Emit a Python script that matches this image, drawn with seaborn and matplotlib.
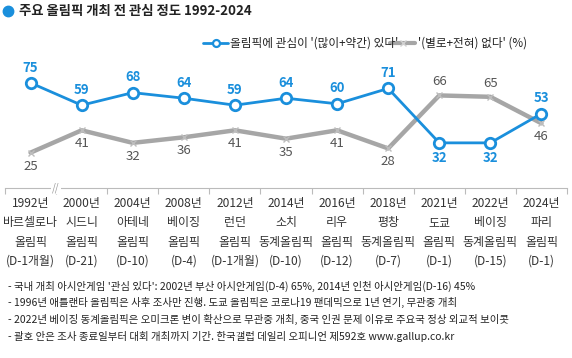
import matplotlib
matplotlib.use("Agg")
import matplotlib.pyplot as plt
import seaborn as sns
import pandas as pd
import numpy as np

# ---- data ----
years = ["1992년", "2000년", "2004년", "2008년", "2012년", "2014년",
         "2016년", "2018년", "2021년", "2022년", "2024년"]
cities = ["바르셀로나", "시드니", "아테네", "베이징", "런던", "소치",
          "리우", "평창", "도쿄", "베이징", "파리"]
games = ["올림픽", "올림픽", "올림픽", "올림픽", "올림픽", "동계올림픽",
         "올림픽", "동계올림픽", "올림픽", "동계올림픽", "올림픽"]
dday = ["(D-1개월)", "(D-21)", "(D-10)", "(D-4)", "(D-1개월)", "(D-10)",
        "(D-12)", "(D-7)", "(D-1)", "(D-15)", "(D-1)"]
interested = [75, 59, 68, 64, 59, 64, 60, 71, 32, 32, 53]
not_interested = [25, 41, 32, 36, 41, 35, 41, 28, 66, 65, 46]

title = "주요 올림픽 개최 전 관심 정도 1992-2024"
legend_blue = "올림픽에 관심이 '(많이+약간) 있다'"
legend_gray = "'(별로+전혀) 없다' (%)"
notes = [
    "- 국내 개최 아시안게임 '관심 있다': 2002년 부산 아시안게임(D-4) 65%, 2014년 인천 아시안게임(D-16) 45%",
    "- 1996년 애틀랜타 올림픽은 사후 조사만 진행. 도쿄 올림픽은 코로나19 팬데믹으로 1년 연기, 무관중 개최",
    "- 2022년 베이징 동계올림픽은 오미크론 변이 확산으로 무관중 개최, 중국 인권 문제 이유로 주요국 정상 외교적 보이콧",
    "- 괄호 안은 조사 종료일부터 대회 개최까지 기간. 한국갤럽 데일리 오피니언 제592호 www.gallup.co.kr",
]

BLUE = "#1a8fdc"
GRAY = "#a6a6a6"

sns.set_theme(style="white")
plt.rcParams['font.family'] = ['Noto Sans CJK KR', 'DejaVu Sans']

W, H = 572, 358
fig = plt.figure(figsize=(W / 100, H / 100), dpi=100)
zero_px = 187.5
top_px = 55
left, right = 5 / W, 567 / W
bottom, top = 1 - zero_px / H, 1 - top_px / H
ax = fig.add_axes([left, bottom, right - left, top - bottom])

n = len(years)
df = pd.DataFrame({"x": np.arange(n), "yes": interested, "no": not_interested})

sns.lineplot(data=df, x="x", y="no", ax=ax, color=GRAY, linewidth=3.2,
             marker="x", markersize=5, markeredgecolor="#bdbdbd",
             markeredgewidth=1.0, zorder=2)
sns.lineplot(data=df, x="x", y="yes", ax=ax, color=BLUE, linewidth=2.0,
             marker="o", markersize=7.5, markerfacecolor="white",
             markeredgecolor=BLUE, markeredgewidth=2.0, zorder=3)

ax.set_xlim(-0.5, n - 0.5)
ax.set_ylim(0, (zero_px - top_px) / 1.395)

# value labels
for i in range(n):
    yb, yg = interested[i], not_interested[i]
    if yb >= yg:
        ax.annotate(str(yb), (i, yb), xytext=(0, 6), textcoords="offset points",
                    ha="center", va="bottom", color=BLUE, fontsize=9.5, fontweight="bold")
        ax.annotate(str(yg), (i, yg), xytext=(0, -5), textcoords="offset points",
                    ha="center", va="top", color="#555555", fontsize=9.5)
    else:
        ax.annotate(str(yb), (i, yb), xytext=(0, -6), textcoords="offset points",
                    ha="center", va="top", color=BLUE, fontsize=9.5, fontweight="bold")
        ax.annotate(str(yg), (i, yg), xytext=(0, 5), textcoords="offset points",
                    ha="center", va="bottom", color="#555555", fontsize=9.5)

# axes styling
for s in ["top", "right", "left"]:
    ax.spines[s].set_visible(False)
ax.spines["bottom"].set_color("#bbbbbb")
ax.spines["bottom"].set_linewidth(0.8)
ax.set_yticks([])
ax.set_xticks(np.arange(-0.5, n, 1.0))
ax.set_xticklabels([])
ax.tick_params(axis="x", which="major", length=4, color="#bbbbbb", width=0.8,
               direction="out", bottom=True)
ax.set_xticks(np.arange(n), minor=True)
ax.set_xticklabels([f"{y}\n{c}\n{g}\n{d}" for y, c, g, d in zip(years, cities, games, dday)],
                   minor=True)
ax.tick_params(axis="x", which="minor", length=0, pad=7, labelsize=8.6,
               labelcolor="#333333")
for lbl in ax.get_xticklabels(minor=True):
    lbl.set_linespacing(1.62)
ax.set_xlabel("")
ax.set_ylabel("")

# axis break mark
ax.text(0.5, 0, "//", transform=ax.get_xaxis_transform(), ha="center", va="center",
        fontsize=7, color="#999999", style="italic",
        bbox=dict(facecolor="white", edgecolor="none", pad=1.0))

# title
fig.add_artist(plt.Line2D([8 / W], [1 - 11 / H], marker="o", markersize=7.5,
                          color=BLUE, linestyle="none"))
fig.text(19 / W, 1 - 11 / H, title, color="#222222", fontsize=9.6,
         fontweight="bold", ha="left", va="center")

# legend (manual)
ly = 1 - 43 / H
fig.add_artist(plt.Line2D([203 / W, 228 / W], [ly, ly], color=BLUE, linewidth=2.0))
fig.add_artist(plt.Line2D([215.5 / W], [ly], marker="o", markersize=5,
                          markerfacecolor="white", markeredgecolor=BLUE,
                          markeredgewidth=1.6, linestyle="none"))
fig.text(230 / W, ly, legend_blue, fontsize=8.4, color="#222222", ha="left", va="center")
fig.add_artist(plt.Line2D([390 / W, 415 / W], [ly, ly], color=GRAY, linewidth=3.0))
fig.add_artist(plt.Line2D([402.5 / W], [ly], marker="x", markersize=4,
                          markeredgecolor="#d0d0d0", markeredgewidth=1.0, linestyle="none"))
fig.text(418 / W, ly, legend_gray, fontsize=8.4, color="#222222", ha="left", va="center")

# notes
for k, t in enumerate(notes):
    fig.text(8 / W, 1 - (286 + k * 16.7) / H, t, fontsize=7.5, color="#222222",
             ha="left", va="center")

fig.savefig("out.png", dpi=100, facecolor="white")
